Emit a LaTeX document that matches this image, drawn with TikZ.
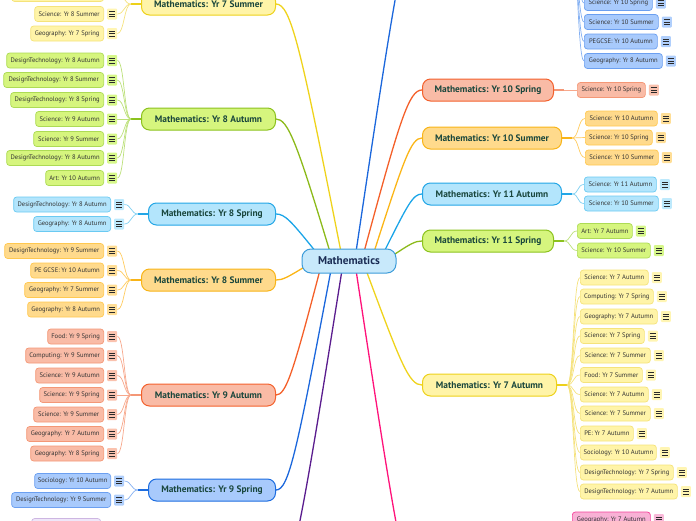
\documentclass[tikz,border=0pt]{standalone}
\usepackage{fontspec}
\setmainfont{PT Sans}
\usetikzlibrary{calc}
\pgfdeclarelayer{background}
\pgfsetlayers{background,main}
% colours
\definecolor{yelF}{HTML}{FFF4A8}\definecolor{yelD}{HTML}{EDD11A}\definecolor{yelB}{HTML}{EFD31C}
\definecolor{yelCD}{HTML}{F5E37A}\definecolor{yelI}{HTML}{FFF5B3}\definecolor{yelL}{HTML}{F5E27E}
\definecolor{grnF}{HTML}{D6F57E}\definecolor{grnD}{HTML}{8CC21E}\definecolor{grnB}{HTML}{8CBA1A}
\definecolor{grnCD}{HTML}{ADDB55}\definecolor{grnI}{HTML}{D6F78A}\definecolor{grnL}{HTML}{BCE07A}
\definecolor{lblF}{HTML}{B3E5FC}\definecolor{lblD}{HTML}{23A6E6}\definecolor{lblB}{HTML}{1BA5E8}
\definecolor{lblCD}{HTML}{6ACAF2}\definecolor{lblI}{HTML}{BDE9FC}\definecolor{lblL}{HTML}{7FD0F2}
\definecolor{orgF}{HTML}{FFDA8C}\definecolor{orgD}{HTML}{F8B418}\definecolor{orgB}{HTML}{FBB516}
\definecolor{orgCD}{HTML}{FFC850}\definecolor{orgI}{HTML}{FFDE96}\definecolor{orgL}{HTML}{FFCB5E}
\definecolor{salF}{HTML}{F9BBA6}\definecolor{salD}{HTML}{F3612D}\definecolor{salB}{HTML}{F4602A}
\definecolor{salCD}{HTML}{F49776}\definecolor{salI}{HTML}{FAC2AE}\definecolor{salL}{HTML}{F7A88C}
\definecolor{dblF}{HTML}{A8CAFC}\definecolor{dblD}{HTML}{1D6DE0}\definecolor{dblB}{HTML}{1B67DC}
\definecolor{dblCD}{HTML}{6B9FF0}\definecolor{dblI}{HTML}{B0CFFC}\definecolor{dblL}{HTML}{84B0F2}
\definecolor{pnkF}{HTML}{F8B1D5}\definecolor{pnkCD}{HTML}{F4419A}\definecolor{pnkB}{HTML}{FF127A}
\definecolor{pnkI}{HTML}{F8B8D8}\definecolor{pnkL}{HTML}{F78CC0}
\definecolor{purB}{HTML}{5A1C8E}\definecolor{purCD}{HTML}{CDB6E2}\definecolor{purF}{HTML}{EFE6F8}
\definecolor{purI}{HTML}{EFE6F8}\definecolor{purL}{HTML}{B99AD8}
\definecolor{ctrF}{HTML}{C8E9FB}\definecolor{ctrD}{HTML}{3C9CD9}\definecolor{ctrT}{HTML}{1B2D55}
\definecolor{mainT}{HTML}{19463C}\definecolor{kidT}{HTML}{333333}\definecolor{icoT}{HTML}{2A2A2A}
\tikzset{
  mainbox/.style={draw, line width=1pt, rounded corners=8pt, minimum height=22pt, inner sep=0pt,
    font=\fontsize{9.4}{10}\selectfont\bfseries, text=mainT},
  kid/.style={draw, line width=0.7pt, rounded corners=3pt, minimum height=15pt, inner ysep=0pt,
    inner xsep=2pt, font=\fontsize{6.6}{7}\selectfont, text=kidT},
  ico/.style={minimum width=10pt, minimum height=11pt, inner sep=0pt, rounded corners=1pt},
  icoline/.style={draw=icoT, line width=0.8pt},
  yelmain/.style={fill=yelF, draw=yelD}, yelkid/.style={fill=yelF, draw=yelCD}, yelico/.style={fill=yelI},
  yelcl/.style={draw=yelL, line width=0.7pt}, yelbr/.style={draw=yelB, line width=1.3pt}, yelstem/.style={draw=yelD, line width=1.6pt},
  grnmain/.style={fill=grnF, draw=grnD}, grnkid/.style={fill=grnF, draw=grnCD}, grnico/.style={fill=grnI},
  grncl/.style={draw=grnL, line width=0.7pt}, grnbr/.style={draw=grnB, line width=1.3pt}, grnstem/.style={draw=grnD, line width=1.6pt},
  lblmain/.style={fill=lblF, draw=lblD}, lblkid/.style={fill=lblF, draw=lblCD}, lblico/.style={fill=lblI},
  lblcl/.style={draw=lblL, line width=0.7pt}, lblbr/.style={draw=lblB, line width=1.3pt}, lblstem/.style={draw=lblD, line width=1.6pt},
  orgmain/.style={fill=orgF, draw=orgD}, orgkid/.style={fill=orgF, draw=orgCD}, orgico/.style={fill=orgI},
  orgcl/.style={draw=orgL, line width=0.7pt}, orgbr/.style={draw=orgB, line width=1.3pt}, orgstem/.style={draw=orgD, line width=1.6pt},
  salmain/.style={fill=salF, draw=salD}, salkid/.style={fill=salF, draw=salCD}, salico/.style={fill=salI},
  salcl/.style={draw=salL, line width=0.7pt}, salbr/.style={draw=salB, line width=1.3pt}, salstem/.style={draw=salCD, line width=1.6pt},
  dblmain/.style={fill=dblF, draw=dblD}, dblkid/.style={fill=dblF, draw=dblCD}, dblico/.style={fill=dblI},
  dblcl/.style={draw=dblL, line width=0.7pt}, dblbr/.style={draw=dblB, line width=1.3pt}, dblstem/.style={draw=dblD, line width=1.6pt},
  pnkkid/.style={fill=pnkF, draw=pnkCD}, pnkico/.style={fill=pnkI}, pnkcl/.style={draw=pnkL, line width=0.7pt},
  pnkbr/.style={draw=pnkB, line width=1.3pt},
  purkid/.style={fill=purF, draw=purCD}, purbr/.style={draw=purB, line width=1.3pt},
  ctrbox/.style={draw=ctrD, fill=ctrF, line width=1pt, rounded corners=9pt, minimum width=94pt,
    minimum height=24pt, inner sep=0pt, font=\fontsize{11.3}{12}\selectfont\bfseries, text=ctrT}
}
\newcommand\IcoLines[1]{\foreach \dy in {-2.6,0,2.6}{\draw[icoline] ($(#1.center)+(-3,\dy)$) -- ++(6,0);}}
% name, fan, x, y, width, branch, text
\newcommand\LeftKid[7]{%
  \node[kid,#6kid,anchor=east,minimum width=#5pt] (#1) at (#3,#4) {#7};
  \node[ico,#6ico,anchor=west] (#1i) at ($(#1.east)+(3,0)$) {};
  \IcoLines{#1i}
  \begin{pgfonlayer}{background}
    \draw[#6cl] (#2) .. controls +(-7,0) and +(7,0) .. (#1i.east);
  \end{pgfonlayer}}
\newcommand\RightKid[7]{%
  \node[kid,#6kid,anchor=west,minimum width=#5pt] (#1) at (#3,#4) {#7};
  \node[ico,#6ico,anchor=west] (#1i) at ($(#1.east)+(3,0)$) {};
  \IcoLines{#1i}
  \begin{pgfonlayer}{background}
    \draw[#6cl] (#2) .. controls +(7,0) and +(-7,0) .. (#1.west);
  \end{pgfonlayer}}
\begin{document}
\begin{tikzpicture}[x=1pt,y=-1pt]
\useasboundingbox (0,0) rectangle (696,520);
% centre
\node[ctrbox] (ctr) at (349,261) {Mathematics};
\coordinate (a8sp) at ($(ctr.center)+(-33,-9)$);
\coordinate (a8a)  at ($(ctr.center)+(-19,-9)$);
\coordinate (a7s)  at ($(ctr.center)+(-8,-9)$);
\coordinate (atop) at ($(ctr.center)+(7,-9)$);
\coordinate (a10sp) at ($(ctr.center)+(15,-9)$);
\coordinate (a10su) at ($(ctr.center)+(25,-9)$);
\coordinate (a11a) at ($(ctr.center)+(35,-9)$);
\coordinate (a11sp) at ($(ctr.center)+(43,-5)$);
\coordinate (a8su) at ($(ctr.center)+(-43,5)$);
\coordinate (a9a)  at ($(ctr.center)+(-29,9)$);
\coordinate (a9sp) at ($(ctr.center)+(-18,9)$);
\coordinate (apur) at ($(ctr.center)+(-7,9)$);
\coordinate (apnk) at ($(ctr.center)+(7,9)$);
\coordinate (a7a)  at ($(ctr.center)+(17,9)$);

% ---------- main nodes, left ----------
\node[mainbox,yelmain,anchor=east,minimum width=134pt] (m7s) at (276,4) {Mathematics: Yr 7 Summer};
\node[mainbox,grnmain,anchor=east,minimum width=134pt] (m8a) at (276,119) {Mathematics: Yr 8 Autumn};
\node[mainbox,lblmain,anchor=east,minimum width=127pt] (m8sp) at (276,214) {Mathematics: Yr 8 Spring};
\node[mainbox,orgmain,anchor=east,minimum width=134pt] (m8su) at (276,280) {Mathematics: Yr 8 Summer};
\node[mainbox,salmain,anchor=east,minimum width=134pt] (m9a) at (276,395) {Mathematics: Yr 9 Autumn};
\node[mainbox,dblmain,anchor=east,minimum width=127pt] (m9sp) at (276,490) {Mathematics: Yr 9 Spring};
\coordinate (mpur) at (276,585);
% ---------- main nodes, right ----------
\coordinate (mtop) at (422,-85);
\node[mainbox,salmain,anchor=west,minimum width=131pt] (m10sp) at (422,90) {Mathematics: Yr 10 Spring};
\node[mainbox,orgmain,anchor=west,minimum width=139pt] (m10su) at (422,138) {Mathematics: Yr 10 Summer};
\node[mainbox,lblmain,anchor=west,minimum width=139pt] (m11a) at (422,194) {Mathematics: Yr 11 Autumn};
\node[mainbox,grnmain,anchor=west,minimum width=131pt] (m11sp) at (422,241) {Mathematics: Yr 11 Spring};
\node[mainbox,yelmain,anchor=west,minimum width=134pt] (m7a) at (422,385) {Mathematics: Yr 7 Autumn};
\coordinate (mpnk) at (422,600);

% fans
\coordinate (f7s) at ($(m7s.west)+(-10,0)$);
\coordinate (f8a) at ($(m8a.west)+(-10,0)$);
\coordinate (f8sp) at ($(m8sp.west)+(-10,0)$);
\coordinate (f8su) at ($(m8su.west)+(-10,0)$);
\coordinate (f9a) at ($(m9a.west)+(-10,0)$);
\coordinate (f9sp) at ($(m9sp.west)+(-10,0)$);
\coordinate (ftop) at (570,-85);
\coordinate (f10sp) at ($(m10sp.east)+(10,0)$);
\coordinate (f10su) at ($(m10su.east)+(10,0)$);
\coordinate (f11a) at ($(m11a.east)+(10,0)$);
\coordinate (f11sp) at ($(m11sp.east)+(10,0)$);
\coordinate (f7a) at ($(m7a.east)+(10,0)$);

\begin{pgfonlayer}{background}
  % main branches
  \draw[yelbr] (m7s.east) .. controls +(15,0) and +(-40,-203) .. (a7s);
  \draw[grnbr] (m8a.east) .. controls +(12,0) and +(-33,-109) .. (a8a);
  \draw[lblbr] (m8sp.east) .. controls +(9,0) and +(-25,-31) .. (a8sp);
  \draw[orgbr] (m8su.east) .. controls +(7,0) and +(-18,11) .. (a8su);
  \draw[salbr] (m9a.east) .. controls +(10,0) and +(-27,103) .. (a9a);
  \draw[dblbr] (m9sp.east) .. controls +(13,0) and +(-34,180) .. (a9sp);
  \draw[purbr] (mpur) .. controls +(15,0) and +(-41,258) .. (apur);
  \draw[dblbr] (mtop) .. controls +(-15,0) and +(41,-276) .. (atop);
  \draw[salbr] (m10sp.west) .. controls +(-13,0) and +(36,-133) .. (a10sp);
  \draw[orgbr] (m10su.west) .. controls +(-11,0) and +(30,-93) .. (a10su);
  \draw[lblbr] (m11a.west) .. controls +(-9,0) and +(24,-48) .. (a11a);
  \draw[grnbr] (m11sp.west) .. controls +(-7,0) and +(18,-12) .. (a11sp);
  \draw[yelbr] (m7a.west) .. controls +(-13,0) and +(35,94) .. (a7a);
  \draw[pnkbr] (mpnk) .. controls +(-15,0) and +(41,271) .. (apnk);
  % stems
  \draw[yelstem] (m7s.west) -- (f7s);
  \draw[grnstem] (m8a.west) -- (f8a);
  \draw[lblstem] (m8sp.west) -- (f8sp);
  \draw[orgstem] (m8su.west) -- (f8su);
  \draw[salstem] (m9a.west) -- (f9a);
  \draw[dblstem] (m9sp.west) -- (f9sp);
  \draw[salstem] (m10sp.east) -- (f10sp);
  \draw[orgstem] (m10su.east) -- (f10su);
  \draw[lblstem] (m11a.east) -- (f11a);
  \draw[grnstem] (m11sp.east) -- (f11sp);
  \draw[yelstem] (m7a.east) -- (f7a);
\end{pgfonlayer}

% ---------- children, left ----------
\LeftKid{k7s0}{f7s}{104}{-6}{92}{yel}{}
\LeftKid{k7s1}{f7s}{104}{14}{69}{yel}{Science: Yr 8 Summer}
\LeftKid{k7s2}{f7s}{104}{33.5}{73}{yel}{Geography: Yr 7 Spring}

\LeftKid{k8a1}{f8a}{104}{60.5}{97}{grn}{DesignTechnology: Yr 8 Autumn}
\LeftKid{k8a2}{f8a}{104}{80}{100}{grn}{DesignTechnology: Yr 8 Summer}
\LeftKid{k8a3}{f8a}{104}{100}{93}{grn}{DesignTechnology: Yr 8 Spring}
\LeftKid{k8a4}{f8a}{104}{119}{68}{grn}{Science: Yr 9 Autumn}
\LeftKid{k8a5}{f8a}{104}{139}{70}{grn}{Science: Yr 9 Summer}
\LeftKid{k8a6}{f8a}{104}{158}{97}{grn}{DesignTechnology: Yr 8 Autumn}
\LeftKid{k8a7}{f8a}{104}{178}{58}{grn}{Art: Yr 10 Autumn}

\LeftKid{k8p1}{f8sp}{111}{204.5}{97}{lbl}{DesignTechnology: Yr 8 Autumn}
\LeftKid{k8p2}{f8sp}{111}{224}{77}{lbl}{Geography: Yr 8 Autumn}

\LeftKid{k8u1}{f8su}{104}{251}{99}{org}{DesignTechnology: Yr 9 Summer}
\LeftKid{k8u2}{f8su}{104}{270.5}{73}{org}{PE GCSE: Yr 10 Autumn}
\LeftKid{k8u3}{f8su}{104}{290}{79}{org}{Geography: Yr 7 Summer}
\LeftKid{k8u4}{f8su}{104}{309.5}{76}{org}{Geography: Yr 8 Autumn}

\LeftKid{k9a1}{f9a}{104}{336.5}{56}{sal}{Food: Yr 9 Spring}
\LeftKid{k9a2}{f9a}{104}{355.5}{78}{sal}{Computing: Yr 9 Summer}
\LeftKid{k9a3}{f9a}{104}{375.5}{68}{sal}{Science: Yr 9 Autumn}
\LeftKid{k9a4}{f9a}{104}{395}{64}{sal}{Science: Yr 9 Spring}
\LeftKid{k9a5}{f9a}{104}{414.5}{70}{sal}{Science: Yr 9 Summer}
\LeftKid{k9a6}{f9a}{104}{434}{77}{sal}{Geography: Yr 7 Autumn}
\LeftKid{k9a7}{f9a}{104}{453.5}{73}{sal}{Geography: Yr 8 Spring}

\LeftKid{k9p1}{f9sp}{111}{481}{76}{dbl}{Sociology: Yr 10 Autumn}
\LeftKid{k9p2}{f9sp}{111}{500}{99}{dbl}{DesignTechnology: Yr 9 Summer}

\node[kid,purkid,anchor=east,minimum width=69pt] (kpur1) at (101,526) {};

% ---------- children, right ----------
\RightKid{kt1}{ftop}{584}{3}{68}{dbl}{Science: Yr 10 Spring}
\RightKid{kt2}{ftop}{584}{22}{74}{dbl}{Science: Yr 10 Summer}
\RightKid{kt3}{ftop}{584}{41.5}{73}{dbl}{PEGCSE: Yr 10 Autumn}
\RightKid{kt4}{ftop}{584}{61}{78}{dbl}{Geography: Yr 8 Autumn}

\RightKid{k10p1}{f10sp}{577}{90}{68}{sal}{Science: Yr 10 Spring}

\RightKid{k10u1}{f10su}{585}{118.5}{72}{org}{Science: Yr 10 Autumn}
\RightKid{k10u2}{f10su}{585}{137.5}{67}{org}{Science: Yr 10 Spring}
\RightKid{k10u3}{f10su}{585}{157.5}{73}{org}{Science: Yr 10 Summer}

\RightKid{k11a1}{f11a}{584}{184.5}{72}{lbl}{Science: Yr 11 Autumn}
\RightKid{k11a2}{f11a}{584}{203.5}{74}{lbl}{Science: Yr 10 Summer}

\RightKid{k11p1}{f11sp}{577}{231}{55}{grn}{Art: Yr 7 Autumn}
\RightKid{k11p2}{f11sp}{577}{250.5}{73}{grn}{Science: Yr 10 Summer}

\RightKid{k7a1}{f7a}{580}{277.5}{68}{yel}{Science: Yr 7 Autumn}
\RightKid{k7a2}{f7a}{580}{296.5}{73}{yel}{Computing: Yr 7 Spring}
\RightKid{k7a3}{f7a}{580}{316.5}{77}{yel}{Geography: Yr 7 Autumn}
\RightKid{k7a4}{f7a}{580}{336}{64}{yel}{Science: Yr 7 Spring}
\RightKid{k7a5}{f7a}{580}{355.5}{70}{yel}{Science: Yr 7 Summer}
\RightKid{k7a6}{f7a}{580}{375}{62}{yel}{Food: Yr 7 Summer}
\RightKid{k7a7}{f7a}{580}{394.5}{68}{yel}{Science: Yr 7 Autumn}
\RightKid{k7a8}{f7a}{580}{413.5}{70}{yel}{Science: Yr 7 Summer}
\RightKid{k7a9}{f7a}{580}{433.5}{53}{yel}{PE: Yr 7 Autumn}
\RightKid{k7a10}{f7a}{580}{452.5}{76}{yel}{Sociology: Yr 10 Autumn}
\RightKid{k7a11}{f7a}{580}{472.5}{93}{yel}{DesignTechnology: Yr 7 Spring}
\RightKid{k7a12}{f7a}{580}{491.5}{97}{yel}{DesignTechnology: Yr 7 Autumn}

\node[kid,pnkkid,anchor=west,minimum width=78pt] (kp1) at (572,519.5) {Geography: Yr 7 Autumn};
\node[ico,pnkico,anchor=west] (kp1i) at ($(kp1.east)+(3,0)$) {};
\IcoLines{kp1i}
\end{tikzpicture}
\end{document}
